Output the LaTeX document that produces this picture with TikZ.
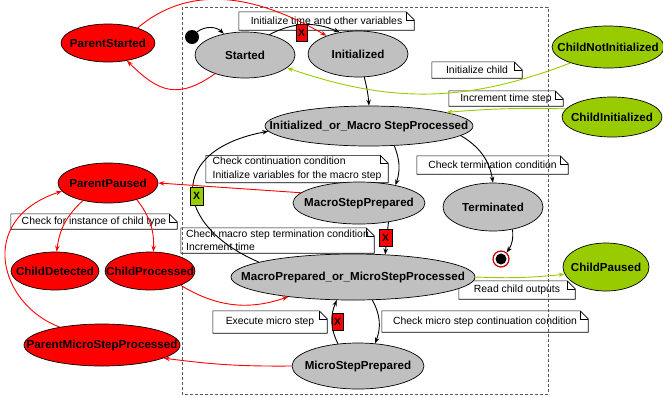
\documentclass[tikz,border=0pt]{standalone}
\usepackage{fontspec}
\setmainfont{Liberation Sans}
\usetikzlibrary{shapes.geometric,arrows.meta}

\definecolor{stgray}{HTML}{C0C0C0}
\definecolor{stred}{HTML}{FF0000}
\definecolor{stgreen}{HTML}{99CC00}

\begin{document}
\begin{tikzpicture}[x=1pt,y=-1pt,
    state/.style={ellipse,draw,line width=0.7pt,inner sep=0pt},
    every label/.style={font=\fontsize{11.6}{13}\selectfont\bfseries},
    note/.style={fill=white,inner sep=1pt,align=left,font=\fontsize{10.4}{13.5}\selectfont},
    xmark/.style={draw,line width=0.5pt,inner sep=0pt,minimum width=11pt,minimum height=17pt,font=\fontsize{10.5}{12}\selectfont\bfseries},
    arr/.style={-{Stealth[length=6pt,width=4.5pt]},line width=0.9pt},
    redarr/.style={arr,draw=stred},
    greenarr/.style={arr,draw=stgreen}]
  \useasboundingbox (0,0) rectangle (663,397);

  % notes
  \node[note,minimum width=175pt,minimum height=18pt] (n1) at (326.5,21) {Initialize time and other variables};
  \node[note,minimum width=90pt,minimum height=16pt] (n2) at (477,70) {Initialize child};
  \node[note,minimum width=114pt,minimum height=15pt] (n3) at (506,98.5) {Increment time step};
  \node[note,minimum width=182pt,minimum height=27pt] (n4) at (297,169) {Check continuation condition\\Initialize variables for the macro step};
  \node[note,minimum width=151pt,minimum height=18pt] (n5) at (492.5,165) {Check termination condition};
  \node[note,minimum width=166pt,minimum height=15pt] (n6) at (94,221.5) {Check for instance of child type};
  \node[note,minimum width=193pt,minimum height=25pt] (n7) at (277.5,240.5) {Check macro step termination condition\\Increment time};
  \node[note,minimum width=116pt,minimum height=18pt] (n8) at (517,290) {Read child outputs};
  \node[note,minimum width=114pt,minimum height=22pt] (n9) at (270,322) {Execute micro step};
  \node[note,minimum width=206pt,minimum height=21pt] (n10) at (485,321.5) {Check micro step continuation condition};
  \foreach \i in {1,...,10} {
    \draw[line width=0.6pt] ([xshift=-8pt]n\i.north east) -- (n\i.north west) -- (n\i.south west)
      -- (n\i.south east) -- ([yshift=-8pt]n\i.north east) -- cycle;
    \draw[line width=0.6pt] ([xshift=-8pt]n\i.north east) |- ([yshift=-8pt]n\i.north east);
  }

  % frame of the child
  \draw[dash pattern=on 3pt off 2pt,line width=0.7pt,black!65] (182,7) rectangle (548,394);

  % child states
  \node[state,fill=stgray,minimum width=100pt,minimum height=46pt,label=center:Started] (started) at (245,55) {};
  \node[state,fill=stgray,minimum width=100pt,minimum height=46pt,label=center:Initialized] (init) at (358,54) {};
  \node[state,fill=stgray,minimum width=208pt,minimum height=40pt,label=center:Initialized\_or\_Macro StepProcessed] (initmacro) at (369,126) {};
  \node[state,fill=stgray,minimum width=132pt,minimum height=42pt,label=center:MacroStepPrepared] (macroprep) at (359,203) {};
  \node[state,fill=stgray,minimum width=100pt,minimum height=48pt,label=center:Terminated] (term) at (493,207) {};
  \node[state,fill=stgray,minimum width=244pt,minimum height=46pt,label=center:MacroPrepared\_or\_MicroStepProcessed] (macromicro) at (353,277) {};
  \node[state,fill=stgray,minimum width=132pt,minimum height=46pt,label=center:MicroStepPrepared] (microprep) at (358,366) {};
  \node[circle,fill=black,minimum size=14pt,inner sep=0pt] (start) at (192,37) {};
  \node[circle,draw=stred!75!black,line width=1.2pt,fill=white,minimum size=16pt,inner sep=0pt] (stop) at (501,259) {};
  \fill (stop.center) circle[radius=5.5pt];

  % parent states
  \node[state,fill=stred,minimum width=94pt,minimum height=38pt,label=center:ParentStarted] (pstarted) at (108,43) {};
  \node[state,fill=stred,minimum width=100pt,minimum height=40pt,label=center:ParentPaused] (ppaused) at (108,183) {};
  \node[state,fill=stred,minimum width=88pt,minimum height=38pt,label=center:ChildDetected] (cdetected) at (55,271) {};
  \node[state,fill=stred,minimum width=90pt,minimum height=38pt,label=center:ChildProcessed] (cprocessed) at (150,271) {};
  \node[state,fill=stred,minimum width=156pt,minimum height=42pt,label=center:ParentMicroStepProcessed] (pmicro) at (102,345) {};

  % child reports
  \node[state,fill=stgreen,minimum width=112pt,minimum height=42pt,label=center:ChildNotInitialized] (cnotinit) at (608,47) {};
  \node[state,fill=stgreen,minimum width=100pt,minimum height=40pt,label=center:ChildInitialized] (cinit) at (612,117) {};
  \node[state,fill=stgreen,minimum width=86pt,minimum height=48pt,label=center:ChildPaused] (cpaused) at (606,267) {};

  % transitions of the child
  \draw[arr] (start) to[bend left=40] (started.135);
  \draw[arr] (started.40) to[bend left=25] (init.130);
  \draw[arr] (init.285) to[bend left=5] (initmacro.north);
  \draw[arr] (initmacro.322) to[bend left=20] (macroprep.26);
  \draw[arr] (initmacro.354) to[bend left=25] (term.north);
  \draw[arr] (macroprep.327) -- (macromicro.35);
  \draw[arr] (macromicro.171) .. controls (172,225) and (167,150) .. (initmacro.183);
  \draw[arr] (term.311) to[bend left=20] (stop);
  \draw[arr] (macromicro.310) to[bend left=25] (microprep.53);
  \draw[arr] (microprep.132) to[bend left=25] (macromicro.235);

  % parent side
  \draw[redarr] (pstarted.27) to[out=40,in=150] (init.150);
  \draw[redarr] (started.212) to[out=215,in=-45,looseness=1.3] (pstarted.317);
  \draw[redarr] (macroprep.170) -- (ppaused.east);
  \draw[redarr] (ppaused.215) to[bend right=20] (cdetected.85);
  \draw[redarr] (ppaused.330) to[bend left=20] (cprocessed.80);
  \draw[redarr] (cprocessed.335) to[bend right=25] (macromicro.197);
  \draw[redarr] (microprep.west) to[bend left=4] (pmicro.348);
  \draw[redarr] (pmicro.157) .. controls (0,305) and (-25,220) .. (ppaused.190);

  % reports to the child
  \draw[greenarr] (cnotinit.203) to[bend left=20] (started.343);
  \draw[greenarr] (cinit.170) to[bend right=3] (initmacro.10);
  \draw[greenarr] (macromicro.east) to[bend right=4] (cpaused.190);

  % breakpoints
  \node[xmark,fill=stred] (x1) at (301.5,32.5) {X};
  \node[xmark,fill=stgreen,minimum width=13pt,minimum height=18pt] (x2) at (196.5,196) {X};
  \node[xmark,fill=stred,minimum width=13pt] (x3) at (385.5,237.5) {X};
  \node[xmark,fill=stred] (x4) at (337.5,321.5) {X};
\end{tikzpicture}
\end{document}
